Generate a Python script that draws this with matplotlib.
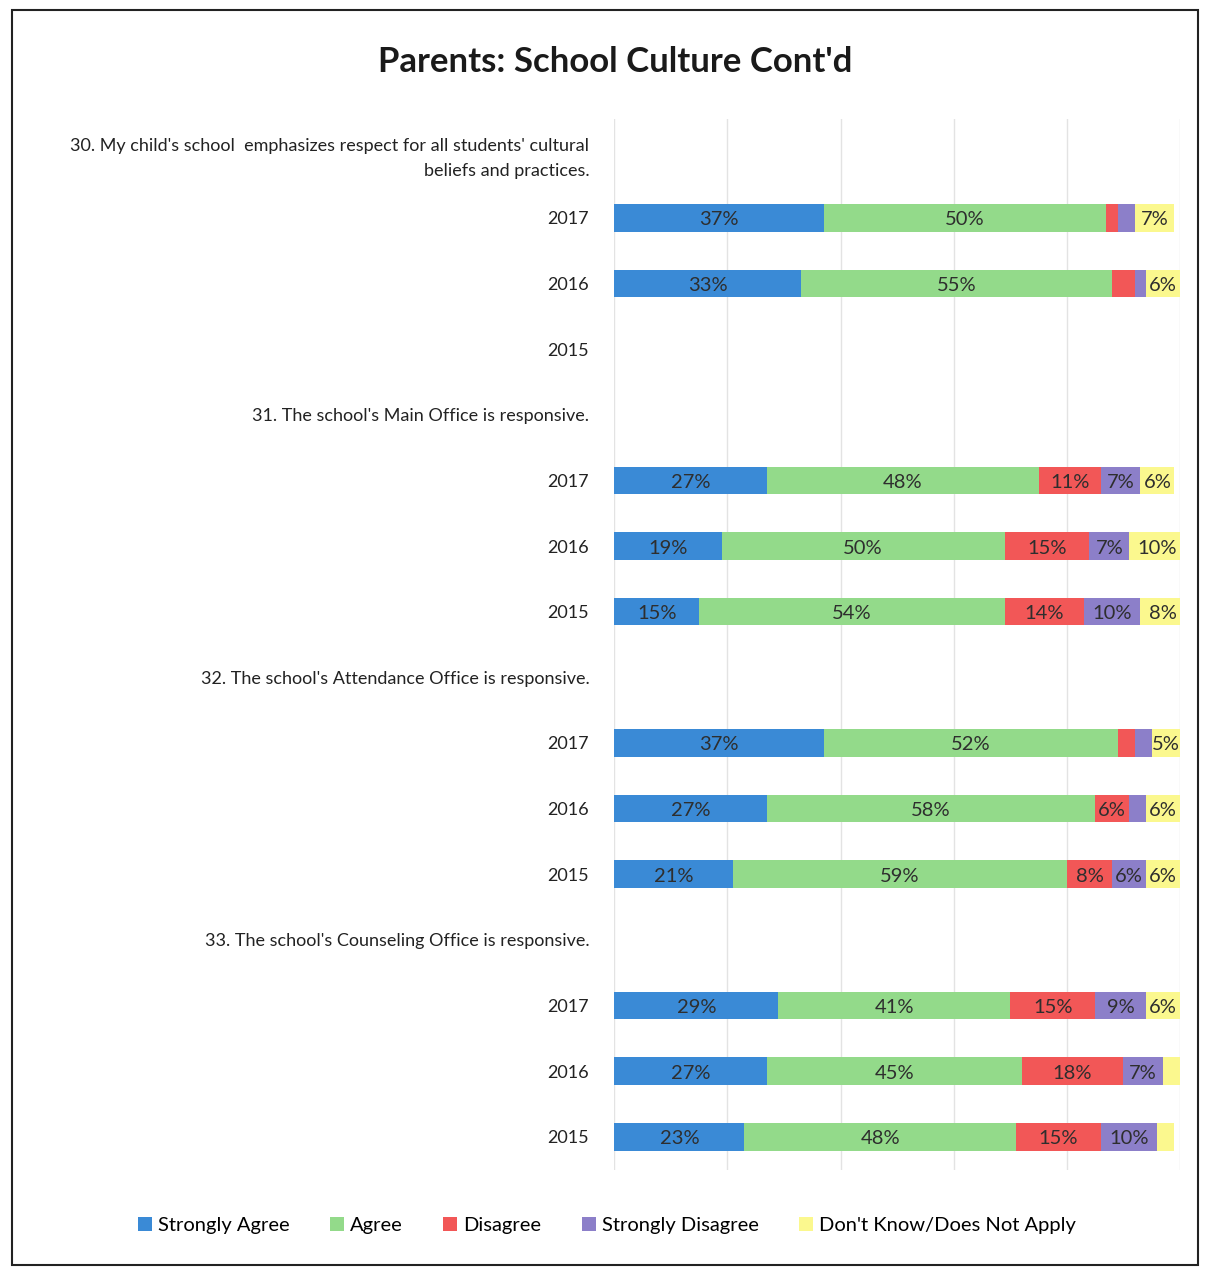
import numpy as np
import matplotlib.pyplot as plt
from matplotlib.patches import Rectangle, Patch

plt.rcParams['font.family'] = ['Lato', 'DejaVu Sans']

# survey rows, top to bottom (question header rows carry no bars)
row_labels = [
    "30. My child's school  emphasizes respect for all students' cultural\nbeliefs and practices.",
    '2017', '2016', '2015',
    "31. The school's Main Office is responsive.",
    '2017', '2016', '2015',
    "32. The school's Attendance Office is responsive.",
    '2017', '2016', '2015',
    "33. The school's Counseling Office is responsive.",
    '2017', '2016', '2015',
]

categories = ['Strongly Agree', 'Agree', 'Disagree', 'Strongly Disagree', "Don't Know/Does Not Apply"]
colors = ['#3a8ad6', '#93da8a', '#f25757', '#8c7fc9', '#fbf88e']

strongly_agree    = [0, 37, 33, 0, 0, 27, 19, 15, 0, 37, 27, 21, 0, 29, 27, 23]
agree             = [0, 50, 55, 0, 0, 48, 50, 54, 0, 52, 58, 59, 0, 41, 45, 48]
disagree          = [0, 2, 4, 0, 0, 11, 15, 14, 0, 3, 6, 8, 0, 15, 18, 15]
strongly_disagree = [0, 3, 2, 0, 0, 7, 7, 10, 0, 3, 3, 6, 0, 9, 7, 10]
dont_know         = [0, 7, 6, 0, 0, 6, 10, 8, 0, 5, 6, 6, 0, 6, 3, 3]

series = [strongly_agree, agree, disagree, strongly_disagree, dont_know]

fig = plt.figure(figsize=(12.14, 12.70), dpi=100)
ax = fig.add_axes([0.506, 0.079, 0.466, 0.827])

y = np.arange(len(row_labels))
left = np.zeros(len(row_labels))
for vals, col, name in zip(series, colors, categories):
    vals = np.array(vals, dtype=float)
    ax.barh(y, vals, left=left, height=0.42, color=col, label=name, zorder=2)
    for yi, (l, v) in enumerate(zip(left, vals)):
        if v >= 5:
            ax.text(l + v / 2, yi + 0.03, '{:d}%'.format(int(v)), ha='center', va='center',
                    fontsize=14.5, color='#2e2e2e', zorder=3)
    left += vals

ax.set_xlim(0, 100)
ax.set_ylim(len(row_labels) - 0.5, -0.5)
ax.set_xticks([0, 20, 40, 60, 80, 100])
ax.set_xticklabels([])
ax.grid(axis='x', color='#e3e3e3', linewidth=1, zorder=0)
ax.set_yticks(y)
ax.set_yticklabels(row_labels, fontsize=13, color='#222222', ha='right',
                   multialignment='right', linespacing=1.7)
ax.tick_params(length=0, pad=18)
for s in ax.spines.values():
    s.set_visible(False)

fig.text(0.507, 0.951, "Parents: School Culture Cont'd", ha='center', va='center',
         fontsize=25, fontweight='bold', color='#1a1a1a')

handles = [Patch(facecolor=c, edgecolor='none') for c in colors]
fig.legend(handles, categories, loc='center', bbox_to_anchor=(0.5, 0.035), ncol=5,
           frameon=False, fontsize=14.5, handlelength=0.7, handleheight=0.7,
           handletextpad=0.3, columnspacing=2.0)

# page frame
fig.add_artist(Rectangle((0.010, 0.004), 0.977, 0.988, transform=fig.transFigure,
                         fill=False, edgecolor='#222222', linewidth=1.5))

fig.savefig('out.png', dpi=100, facecolor='white')
